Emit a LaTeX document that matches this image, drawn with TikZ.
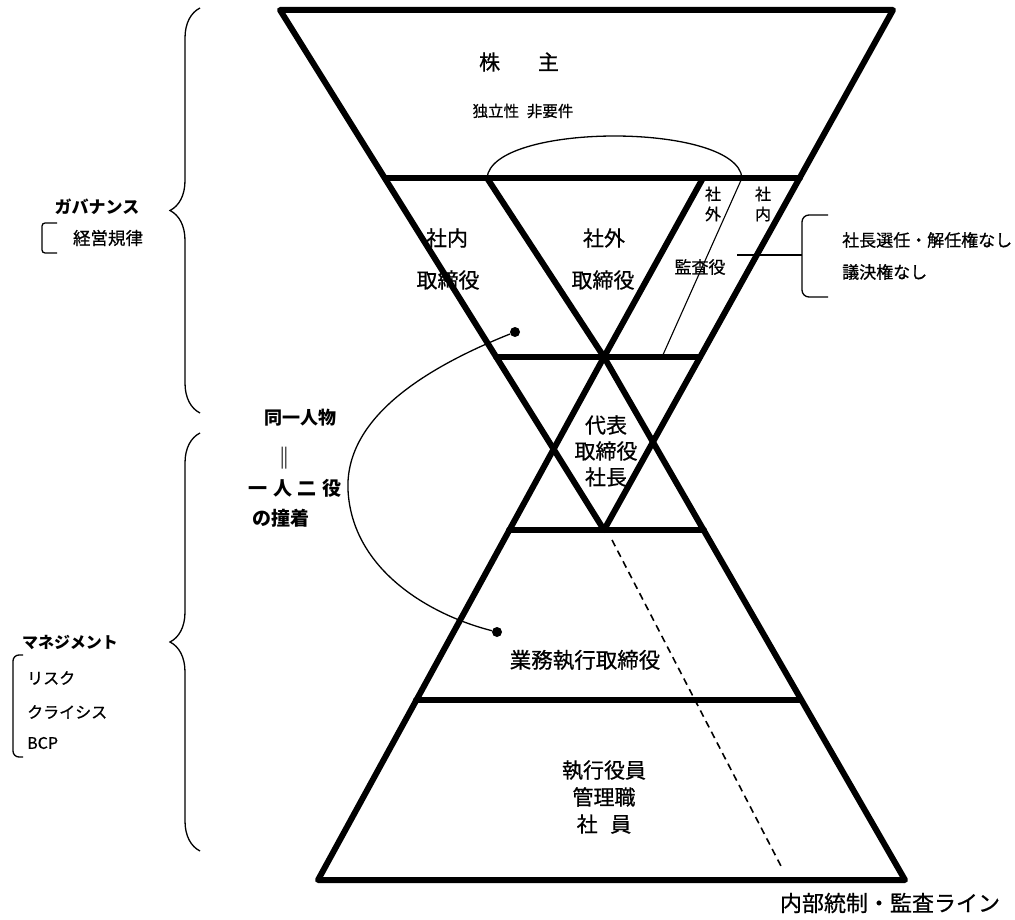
\documentclass[tikz,border=0pt]{standalone}
\usepackage{fontspec}
\setmainfont{Noto Sans CJK JP}
\newfontfamily\medfont{Noto Sans CJK JP}[FakeBold=0.7]
\usepackage{tikz}
\usetikzlibrary{decorations.pathreplacing}

\tikzset{
  thickline/.style={line width=6pt, line join=round, line cap=round},
  txt/.style={inner sep=0pt, align=center, font=\medfont\fontsize{#1}{#1}\selectfont},
  txt/.default=20,
  boldtxt/.style={inner sep=0pt, align=center, font=\fontsize{#1}{#1}\selectfont\bfseries},
  dot/.style={circle, fill, inner sep=0pt, minimum size=10pt},
  bigbrace/.style={decorate, decoration={brace, amplitude=30pt}, line width=1.3pt}
}

\begin{document}
\begin{tikzpicture}[x=1pt, y=-1pt]
    \useasboundingbox (0,0) rectangle (1015,920);
    % upper inverted triangle
    \draw[thickline] (280,10) -- (893,10) -- (604,530) -- cycle;
    \draw[thickline] (385,178) -- (800,178);
    \draw[thickline] (496,357) -- (700,357);
    \draw[thickline] (487,178) -- (604,357) -- (703,178);
    \draw[line width=1.1pt] (742,178) -- (662,357);
    % lower triangle
    \draw[thickline] (604,357) -- (905,880) -- (318,880) -- cycle;
    \draw[thickline] (509,530) -- (704,530);
    \draw[thickline] (416,700) -- (801,700);
    % internal control line
    \coordinate (lineTop) at (612,540);
    \coordinate (lineEnd) at (782,868);
    \draw[line width=1.6pt, dash pattern=on 7pt off 5pt] (lineTop) -- (lineEnd);
    % arc over outside directors
    \coordinate (arcL) at (487,178);
    \coordinate (arcR) at (742,178);
    \draw[line width=1.3pt] (arcL) .. controls (492,122) and (737,122) .. (arcR);

    \node (kabunushi) at (519,62) [txt=21] {株\hspace{1.8em}主};
    \node (dokuritsu) at (523,111) [txt=15.5] {独立性\hspace{0.5em}非要件};
    \node (shanai) at (447,238) [txt=21] {社内};
    \node (shanaiTori) at (448,280) [txt=21] {取締役};
    \node (shagai) at (604,238) [txt=21] {社外};
    \node (shagaiTori) at (603,280) [txt=21] {取締役};
    \node (kansaOut) at (713,204) [txt=16, font=\medfont\fontsize{16}{20}\selectfont] {社\\外};
    \node (kansaIn) at (763,204) [txt=16, font=\medfont\fontsize{16}{20}\selectfont] {社\\内};
    \node (kansayaku) at (700,267) [txt=17] {監査役};

    % note on auditors
    \coordinate (kansaLine) at (737,255);
    \coordinate (noteBrk) at (802,255);
    \draw[line width=1.3pt] (kansaLine) -- (noteBrk);
    \draw[line width=1.3pt, rounded corners=7pt] (828,215) -- (802,215) -- (802,297) -- (828,297);
    \node (noteA) at (842,240) [txt=17, anchor=west] {社長選任・解任権なし};
    \node (noteB) at (842,272) [txt=17, anchor=west] {議決権なし};

    \node (daihyo) at (606,451) [txt=21, font=\medfont\fontsize{21}{26}\selectfont] {代表\\取締役\\社長};
    \node (gyomu) at (585,660) [txt=21.5] {業務執行取締役};
    \node (shain) at (604,797) [txt=21, font=\medfont\fontsize{21}{27}\selectfont] {執行役員\\管理職\\社\hspace{0.6em}員};
    \node (naibu) at (890,903) [txt=22] {内部統制・監査ライン};

    % same person, two roles
    \node (dotA) at (515,332) [dot] {};
    \node (dotB) at (497,632) [dot] {};
    \draw[line width=1.3pt] (dotA) .. controls (420,370) and (345,420) .. (348,490)
        .. controls (352,570) and (430,615) .. (dotB);
    \node (doitsu) at (300,418) [boldtxt=18] {同一人物};
    \node (equal) at (284,458) [boldtxt=22] {‖};
    \node (ichinin) at (295,488) [boldtxt=19] {一\hspace{0.3em}人\hspace{0.3em}二\hspace{0.3em}役};
    \node (dochaku) at (281,518) [boldtxt=19] {の撞着};

    % governance
    \draw[bigbrace] (200,413) -- (200,8);
    \node (gov) at (97,207) [boldtxt=17] {ガバナンス};
    \draw[line width=1.3pt, rounded corners=3pt] (57,223) -- (42,223) -- (42,253) -- (57,253);
    \node (keiei) at (108,238) [txt=17.5] {経営規律};

    % management
    \draw[bigbrace] (200,851) -- (200,433);
    \node (mgmt) at (70,642) [boldtxt=16] {マネジメント};
    \draw[line width=1.3pt, rounded corners=6pt] (23,655) -- (13,655) -- (13,757) -- (23,757);
    \node (risk) at (27,678) [txt=16, anchor=west] {リスク};
    \node (crisis) at (27,712) [txt=16, anchor=west] {クライシス};
    \node (bcp) at (27,743) [txt=16, anchor=west] {BCP};
\end{tikzpicture}
\end{document}
